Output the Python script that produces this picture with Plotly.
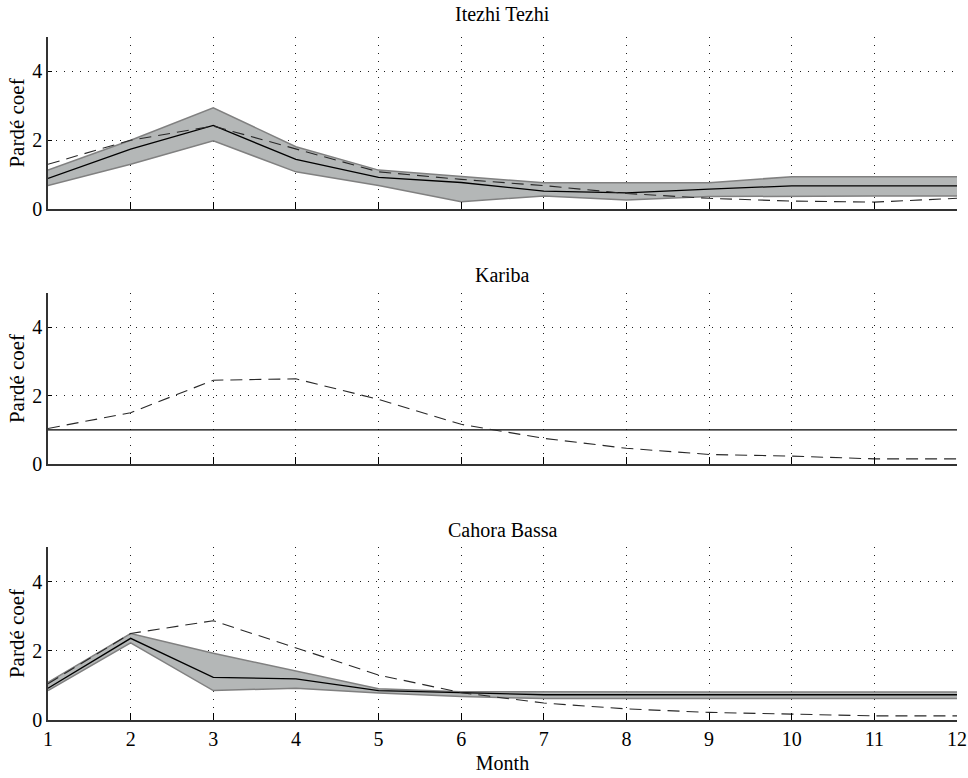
import plotly.graph_objects as go

months = list(range(1, 13))

titles = ["Itezhi Tezhi", "Kariba", "Cahora Bassa"]

# Itezhi Tezhi
itt_upper = [1.13, 2.00, 2.94, 1.81, 1.13, 0.94, 0.76, 0.76, 0.76, 0.94, 0.94, 0.94]
itt_lower = [0.68, 1.30, 1.98, 1.08, 0.68, 0.21, 0.38, 0.26, 0.36, 0.38, 0.38, 0.38]
itt_mean = [0.89, 1.74, 2.43, 1.44, 0.92, 0.77, 0.52, 0.47, 0.58, 0.67, 0.67, 0.67]
itt_dash = [1.30, 2.00, 2.41, 1.74, 1.08, 0.86, 0.68, 0.45, 0.31, 0.23, 0.20, 0.31]

# Kariba
kar_mean = [1.0] * 12
kar_dash = [1.04, 1.50, 2.45, 2.49, 1.89, 1.16, 0.75, 0.46, 0.28, 0.23, 0.15, 0.15]

# Cahora Bassa
cb_upper = [1.09, 2.50, 1.93, 1.42, 0.90, 0.82, 0.81, 0.81, 0.81, 0.81, 0.81, 0.81]
cb_lower = [0.85, 2.23, 0.85, 0.92, 0.78, 0.68, 0.62, 0.62, 0.62, 0.62, 0.62, 0.62]
cb_mean = [0.92, 2.36, 1.23, 1.19, 0.85, 0.78, 0.73, 0.73, 0.73, 0.73, 0.73, 0.73]
cb_dash = [1.05, 2.50, 2.87, 2.09, 1.30, 0.79, 0.49, 0.32, 0.22, 0.17, 0.12, 0.12]

FONT = "Liberation Serif, Times New Roman, serif"
FS = 20

fig = go.Figure()

BAND_FILL = "rgb(180,183,183)"
BAND_EDGE = "rgb(128,128,128)"


def add_panel(row, upper, lower, mean, dash):
    xa = "x" if row == 1 else f"x{row}"
    ya = "y" if row == 1 else f"y{row}"
    if upper is not None:
        fig.add_trace(go.Scatter(x=months, y=lower, mode="lines",
                                 line=dict(color=BAND_EDGE, width=1.5),
                                 xaxis=xa, yaxis=ya, showlegend=False, hoverinfo="skip"))
        fig.add_trace(go.Scatter(x=months, y=upper, mode="lines",
                                 line=dict(color=BAND_EDGE, width=1.5),
                                 fill="tonexty", fillcolor=BAND_FILL,
                                 xaxis=xa, yaxis=ya, showlegend=False, hoverinfo="skip"))
    fig.add_trace(go.Scatter(x=months, y=mean, mode="lines",
                             line=dict(color="black", width=1.3),
                             xaxis=xa, yaxis=ya, showlegend=False))
    fig.add_trace(go.Scatter(x=months, y=dash, mode="lines",
                             line=dict(color="rgb(40,40,40)", width=1.1, dash="12px,7px"),
                             xaxis=xa, yaxis=ya, showlegend=False))


add_panel(1, itt_upper, itt_lower, itt_mean, itt_dash)
add_panel(2, None, None, kar_mean, kar_dash)
add_panel(3, cb_upper, cb_lower, cb_mean, cb_dash)

domains = [[0.7482, 1.0], [0.3748, 0.6252], [0.0, 0.2533]]

layout = dict(
    width=968, height=778,
    margin=dict(l=48, r=11, t=37, b=58, autoexpand=False),
    paper_bgcolor="white", plot_bgcolor="white",
    font=dict(family=FONT, size=FS, color="black"),
    showlegend=False,
)

GRID = "rgb(30,30,30)"
for i in range(3):
    sfx = "" if i == 0 else str(i + 1)
    anchor = "y" + sfx
    layout["xaxis" + sfx] = dict(
        domain=[0, 1], anchor=anchor, range=[1, 12], automargin=False,
        tickvals=months, ticktext=[str(m) for m in months] if i == 2 else [""] * 12,
        showticklabels=(i == 2),
        ticks="inside", ticklen=7, tickcolor="black", tickwidth=1,
        showline=True, linecolor="rgb(50,50,50)", linewidth=1.5,
        showgrid=True, gridcolor=GRID, griddash="1px,7px", gridwidth=1.2,
        zeroline=False,
        tickfont=dict(family=FONT, size=FS),
        title=dict(text="Month", font=dict(family=FONT, size=FS), standoff=7) if i == 2 else None,
    )
    layout["yaxis" + sfx] = dict(
        domain=domains[i], anchor="x" + sfx, range=[0, 5], automargin=False,
        tickvals=[0, 2, 4, 5], ticktext=["0", "2", "4", ""],
        ticks="inside", ticklen=4, tickcolor="black",
        showline=True, linecolor="rgb(50,50,50)", linewidth=1.5,
        showgrid=True, gridcolor=GRID, griddash="1px,7px", gridwidth=1.2,
        zeroline=False,
        tickfont=dict(family=FONT, size=FS),
        title=dict(text="Pardé coef", font=dict(family=FONT, size=21), standoff=2),
    )

fig.update_layout(**layout)

title_y = [14, 275, 530]
for t, yy in zip(titles, title_y):
    fig.add_annotation(text=t, xref="paper", yref="paper", x=0.5,
                       y=(720 - yy) / 683, xanchor="center", yanchor="middle",
                       showarrow=False, font=dict(family=FONT, size=FS, color="black"))

fig.write_html(
    "out.html",
    config={"displayModeBar": False},
    post_script="document.body.style.margin='0px';document.body.style.overflow='hidden';",
)
